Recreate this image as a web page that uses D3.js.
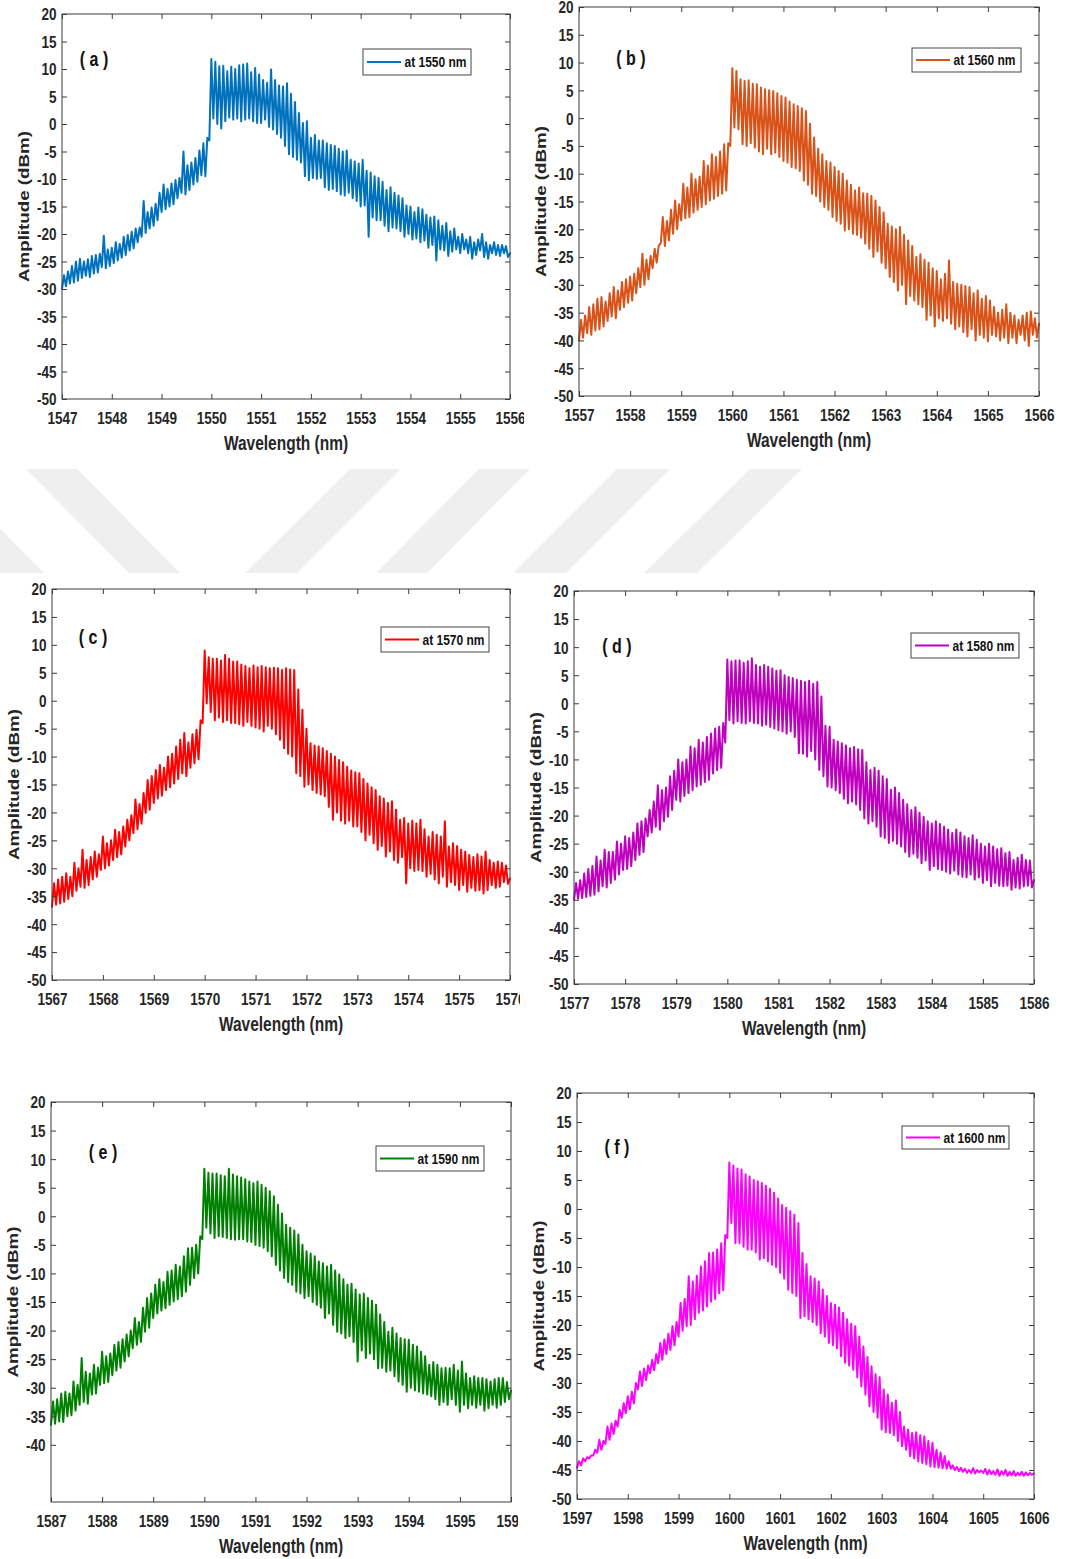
<!DOCTYPE html>
<html>
<head>
<meta charset="utf-8">
<script src="https://cdn.jsdelivr.net/npm/d3@7"></script>
<style>
  html, body { margin: 0; padding: 0; background: #fff; }
  svg { display: block; }
</style>
</head>
<body>
<script>
// Comb spectra sampled every 0.04 nm, alternating trough, peak, trough, peak ... (dBm)
const sampleStep = 0.04;

const startA = 1547;
const ampA = [
  -30.0,-27.5, -29.5,-26.8, -29.0,-25.8, -28.8,-25.0, -28.5,-24.5,
  -28.0,-25.0, -27.6,-24.6, -27.8,-24.0, -27.2,-23.8, -27.0,-23.6,
  -26.0,-20.3, -26.2,-22.8, -25.8,-22.5, -25.3,-21.5, -24.8,-21.8,
  -24.3,-20.5, -23.8,-20.2, -23.0,-19.6, -22.6,-19.0, -21.5,-18.8,
  -20.5,-14.0, -19.8,-16.0, -19.0,-15.2, -18.5,-14.5, -17.5,-12.5,
  -16.0,-11.0, -15.5,-11.8, -15.0,-10.8, -14.6,-10.2, -13.5,-9.8,
  -12.5,-5.0, -12.8,-7.5, -12.0,-7.0, -11.0,-6.2, -10.5,-4.8,
  -9.3,-3.5, -9.5,-2.5, -3.0,11.8, 1.0,11.3, 0.0,10.5,
  -0.8,10.6, 0.5,9.6, 1.2,10.4, 0.8,10.0, 1.0,10.7,
  0.5,10.8, 0.8,11.0, 1.0,9.4, 0.5,10.2, 0.2,9.0,
  0.2,8.0, 0.8,7.5, -0.5,9.9, -1.0,8.0, -1.8,7.0,
  -2.5,6.8, -4.0,7.4, -5.5,5.5, -6.0,4.0, -6.5,2.0,
  -7.0,0.2, -9.5,0.5, -10.2,-2.5, -9.8,-2.0, -10.0,-3.0,
  -9.8,-3.0, -11.5,-3.5, -12.0,-3.8, -11.8,-4.0, -12.2,-4.5,
  -12.8,-5.0, -13.0,-4.8, -12.5,-6.5, -13.5,-6.8, -14.0,-7.2,
  -15.0,-6.5, -14.8,-8.5, -20.5,-8.8, -17.0,-9.5, -17.5,-9.8,
  -17.5,-10.5, -18.5,-12.0, -19.5,-11.5, -18.8,-12.5, -19.0,-13.0,
  -19.5,-13.5, -20.5,-14.8, -20.0,-15.0, -21.0,-16.0, -20.8,-15.2,
  -21.5,-15.5, -21.2,-16.5, -22.5,-17.0, -22.0,-16.8, -24.8,-17.5,
  -22.8,-18.5, -23.0,-18.0, -24.0,-19.5, -23.2,-19.0, -22.8,-20.5,
  -23.5,-20.0, -22.8,-21.0, -23.5,-20.5, -24.5,-21.5, -23.8,-21.0,
  -23.0,-20.0, -24.2,-21.5, -24.5,-22.0, -23.5,-21.5, -23.8,-22.0,
  -24.0,-22.0, -23.5,-22.2, -24.2,-23.5
];

const startB = 1557;
const ampB = [
  -40.0,-36.3, -39.5,-35.5, -38.7,-34.0, -39.0,-33.5, -38.2,-32.5,
  -38.0,-32.2, -37.5,-33.0, -36.5,-31.5, -35.7,-30.4, -36.0,-31.0,
  -34.5,-29.5, -34.0,-29.0, -33.2,-28.5, -32.8,-28.0, -31.5,-27.0,
  -30.4,-24.4, -30.0,-25.5, -29.0,-24.8, -27.0,-23.5, -26.0,-23.0,
  -22.5,-17.8, -23.0,-18.5, -22.0,-16.5, -20.8,-14.8, -20.0,-15.5,
  -18.4,-11.8, -18.0,-12.5, -17.8,-10.0, -17.0,-11.0, -16.5,-10.5,
  -16.0,-7.7, -15.5,-8.5, -14.8,-6.5, -14.5,-7.0, -14.0,-6.0,
  -13.6,-4.7, -13.0,-4.5, -5.0,9.0, -1.7,8.5, -2.0,7.0,
  -4.7,6.7, -5.0,6.8, -4.5,6.2, -5.3,6.1, -6.0,5.5,
  -6.5,5.2, -5.5,5.0, -6.5,4.9, -6.2,4.5, -7.0,4.0,
  -7.7,3.7, -8.0,3.0, -8.8,2.5, -9.0,2.2, -9.5,1.8,
  -11.2,1.3, -12.0,-1.0, -13.6,-3.5, -14.0,-5.5, -15.0,-6.5,
  -16.0,-7.7, -16.5,-8.0, -17.8,-8.8, -18.5,-9.5, -19.0,-10.0,
  -20.2,-11.2, -20.0,-12.0, -20.8,-13.0, -21.0,-12.5, -21.5,-13.5,
  -22.6,-13.6, -23.5,-14.0, -25.0,-14.8, -24.0,-16.0, -26.0,-17.0,
  -27.0,-19.0, -28.6,-19.5, -29.5,-20.0, -31.0,-19.6, -30.0,-21.0,
  -33.5,-22.0, -32.0,-23.0, -32.8,-25.0, -33.5,-24.5, -34.0,-25.5,
  -36.3,-26.0, -35.5,-27.0, -37.5,-27.5, -36.0,-29.0, -36.5,-28.0,
  -36.0,-25.6, -37.0,-29.5, -38.0,-29.8, -37.5,-30.0, -38.5,-30.2,
  -39.3,-30.4, -38.0,-31.5, -40.0,-31.0, -39.0,-32.5, -39.5,-32.0,
  -40.2,-32.8, -39.0,-34.0, -39.3,-35.0, -40.0,-34.5, -39.5,-33.5,
  -40.5,-35.0, -39.5,-35.5, -40.5,-36.3, -39.0,-35.5, -40.0,-35.0,
  -41.0,-34.8, -39.0,-36.0, -39.5,-37.0
];

const startC = 1567;
const ampC = [
  -36.9,-32.7, -36.5,-32.0, -36.3,-31.5, -36.0,-30.9, -35.5,-31.5,
  -35.0,-29.0, -34.0,-30.0, -33.3,-26.7, -33.5,-28.5, -33.0,-28.0,
  -32.0,-27.0, -31.5,-27.5, -30.3,-24.3, -30.0,-25.5, -29.5,-25.0,
  -28.5,-23.1, -28.0,-23.5, -27.5,-22.5, -26.1,-21.3, -25.0,-20.5,
  -23.7,-17.7, -23.0,-18.5, -22.0,-16.5, -20.1,-14.2, -19.5,-13.5,
  -18.3,-12.4, -17.5,-11.5, -17.0,-12.0, -16.0,-10.0, -15.5,-9.5,
  -14.8,-8.2, -14.0,-7.0, -13.0,-5.8, -13.5,-7.5, -12.0,-6.0,
  -11.2,-5.2, -10.5,-3.5, -4.0,9.0, -0.5,7.8, -2.0,7.5,
  -3.5,7.5, -3.0,7.2, -3.8,8.2, -3.5,7.5, -4.0,7.0,
  -4.0,7.0, -4.2,6.5, -4.5,6.2, -3.8,5.8, -4.5,6.3,
  -4.8,6.0, -5.0,6.2, -5.5,6.0, -4.5,5.8, -5.0,5.9,
  -6.0,5.8, -7.0,5.5, -8.5,5.8, -9.5,5.6, -10.0,5.5,
  -13.0,2.0, -13.5,-1.6, -15.4,-5.0, -15.0,-7.6, -16.0,-8.0,
  -16.5,-8.2, -16.8,-8.5, -17.1,-9.0, -19.0,-9.5, -21.3,-10.0,
  -20.0,-10.6, -21.5,-11.0, -22.0,-11.8, -21.5,-12.5, -22.5,-12.8,
  -22.5,-13.0, -23.5,-14.0, -25.0,-14.8, -24.0,-15.5, -25.5,-16.0,
  -26.7,-17.1, -26.0,-17.5, -27.9,-18.3, -27.0,-18.0, -28.5,-19.5,
  -29.0,-21.3, -28.0,-21.0, -32.7,-22.0, -30.0,-21.5, -30.5,-22.0,
  -30.3,-21.3, -30.5,-23.0, -31.5,-24.3, -31.0,-23.5, -32.0,-24.0,
  -32.7,-24.3, -31.5,-21.6, -33.3,-26.1, -32.5,-25.5, -33.0,-26.0,
  -33.9,-26.7, -33.0,-27.0, -34.2,-27.6, -33.5,-28.0, -34.0,-27.5,
  -33.9,-27.9, -34.5,-27.0, -33.9,-28.5, -33.0,-29.0, -33.5,-28.8,
  -33.3,-29.0, -32.5,-29.5, -32.8,-31.8
];

const startD = 1577;
const ampD = [
  -35.0,-32.0, -34.8,-31.5, -34.7,-30.3, -34.5,-29.5, -34.3,-29.0,
  -34.1,-27.3, -33.5,-28.0, -32.6,-26.1, -32.8,-26.5, -32.0,-26.5,
  -31.4,-24.6, -30.5,-25.0, -29.7,-23.7, -29.5,-24.0, -29.0,-23.0,
  -27.9,-21.4, -27.0,-21.0, -26.5,-20.5, -23.7,-19.0, -23.0,-17.5,
  -22.0,-14.6, -22.5,-15.5, -21.0,-15.0, -20.2,-13.0, -19.0,-12.0,
  -17.2,-10.0, -17.5,-10.5, -16.5,-10.0, -16.0,-7.7, -15.5,-8.0,
  -14.8,-6.5, -14.5,-7.0, -14.0,-6.0, -13.6,-5.4, -12.5,-4.5,
  -11.9,-4.2, -11.5,-3.5, -7.0,7.8, -3.0,7.5, -3.6,7.6,
  -3.2,7.6, -3.5,7.2, -3.6,7.5, -3.2,8.0, -3.5,6.8,
  -3.6,6.5, -4.0,6.8, -3.8,6.5, -4.2,6.2, -4.5,5.8,
  -4.8,5.9, -5.0,5.0, -5.4,4.7, -5.0,4.5, -6.0,4.2,
  -8.9,4.0, -9.0,3.8, -9.5,4.0, -8.5,3.5, -10.0,3.8,
  -11.9,1.2, -13.0,-4.0, -14.8,-4.2, -15.0,-6.5, -15.5,-6.8,
  -16.0,-7.1, -17.0,-7.5, -17.8,-8.0, -17.5,-7.8, -18.0,-8.2,
  -19.0,-8.3, -20.5,-10.5, -21.4,-11.9, -21.0,-11.5, -22.0,-12.0,
  -23.7,-13.0, -24.0,-13.5, -24.9,-15.4, -24.5,-15.0, -25.0,-16.0,
  -25.5,-17.2, -26.5,-18.0, -27.3,-19.0, -26.8,-18.5, -27.5,-19.5,
  -28.5,-20.2, -28.0,-21.0, -29.7,-21.4, -29.0,-21.0, -29.5,-21.5,
  -29.7,-22.0, -30.0,-22.5, -30.3,-23.1, -29.8,-22.5, -30.5,-23.0,
  -30.9,-23.7, -31.0,-24.0, -30.5,-23.5, -31.4,-24.3, -31.0,-25.0,
  -32.0,-25.5, -31.5,-25.0, -32.6,-25.5, -32.0,-26.0, -32.5,-25.8,
  -32.6,-26.7, -32.5,-26.5, -33.2,-27.9, -32.8,-27.5, -33.0,-27.0,
  -32.6,-27.9, -32.5,-28.0, -32.8,-31.5
];

const startE = 1587;
const ampE = [
  -36.5,-32.4, -36.3,-32.0, -35.9,-31.0, -36.0,-30.7, -35.0,-31.0,
  -34.8,-28.9, -34.0,-29.5, -33.0,-24.8, -32.5,-27.2, -32.8,-27.5,
  -31.2,-26.0, -31.0,-26.5, -29.5,-23.7, -29.2,-24.5, -29.0,-24.0,
  -27.8,-22.5, -27.0,-22.0, -26.5,-21.5, -25.4,-20.7, -24.5,-20.0,
  -23.1,-17.8, -22.5,-18.5, -22.0,-16.0, -20.2,-14.3, -19.5,-13.5,
  -17.8,-12.0, -17.0,-11.0, -16.5,-11.5, -16.1,-9.7, -15.5,-9.5,
  -14.9,-8.5, -14.5,-8.8, -14.0,-7.0, -13.2,-5.6, -12.0,-5.5,
  -10.8,-5.0, -10.0,-3.5, -4.0,8.3, -2.0,7.6, -3.0,7.5,
  -3.8,7.5, -3.5,7.2, -3.6,7.0, -3.8,8.3, -4.0,7.3,
  -4.1,7.0, -4.0,6.8, -4.0,6.5, -4.4,6.1, -4.5,5.8,
  -5.0,6.1, -5.2,5.5, -5.5,5.0, -6.1,4.4, -7.0,3.5,
  -8.5,2.0, -9.5,0.5, -10.8,-1.5, -11.5,-2.0, -12.0,-2.5,
  -13.2,-3.2, -13.5,-5.0, -14.3,-6.1, -14.0,-6.5, -15.0,-7.0,
  -15.5,-7.9, -16.0,-8.2, -17.8,-8.8, -17.0,-8.5, -19.0,-9.5,
  -20.2,-10.2, -20.5,-11.0, -21.3,-12.0, -21.0,-11.8, -22.0,-12.8,
  -25.4,-13.7, -23.5,-13.5, -24.8,-14.3, -24.0,-14.8, -25.0,-15.5,
  -26.6,-17.2, -26.5,-18.5, -27.2,-20.2, -27.0,-19.5, -28.0,-20.5,
  -28.9,-21.3, -29.5,-21.5, -30.7,-21.6, -30.0,-22.5, -30.5,-22.8,
  -30.7,-23.7, -31.0,-24.5, -31.2,-26.0, -31.5,-25.5, -32.0,-26.0,
  -33.0,-26.6, -32.5,-26.5, -33.0,-26.6, -32.0,-26.0, -33.0,-27.0,
  -34.2,-25.4, -33.0,-27.5, -33.6,-28.3, -33.0,-28.0, -33.5,-28.3,
  -33.0,-28.3, -34.0,-28.5, -33.6,-28.9, -33.0,-28.5, -33.5,-28.3,
  -33.0,-28.3, -32.5,-29.0, -32.0,-30.5
];

const startF = 1597;
const ampF = [
  -44.6,-43.5, -44.2,-43.0, -43.5,-42.8, -43.0,-42.5, -42.5,-41.5,
  -42.0,-39.8, -41.5,-40.0, -40.5,-37.5, -39.8,-37.0, -38.8,-36.5,
  -37.5,-34.6, -36.0,-33.5, -35.2,-32.3, -34.5,-31.5, -33.5,-30.0,
  -31.1,-28.0, -30.5,-27.5, -29.5,-27.0, -28.3,-26.0, -27.8,-25.0,
  -26.6,-23.1, -26.0,-22.5, -25.0,-21.5, -24.3,-20.2, -23.5,-19.5,
  -22.0,-16.2, -21.0,-15.5, -20.2,-11.6, -20.0,-12.5, -19.0,-11.5,
  -17.9,-9.9, -17.5,-9.0, -16.8,-7.6, -16.0,-7.5, -15.5,-7.0,
  -14.5,-5.9, -14.0,-4.5, -5.0,8.0, -2.4,7.5, -5.9,7.0,
  -5.9,6.8, -6.5,6.0, -7.0,5.6, -7.0,5.0, -7.5,4.8,
  -8.7,4.5, -8.5,4.0, -9.0,3.5, -9.6,2.8, -10.0,1.8,
  -11.0,0.7, -12.0,0.2, -13.9,-0.4, -14.5,-1.0, -15.0,-2.4,
  -18.8,-7.6, -18.5,-9.5, -19.0,-11.6, -19.5,-12.0, -20.0,-12.5,
  -21.4,-13.9, -22.0,-15.0, -23.1,-16.2, -23.5,-16.5, -24.0,-17.0,
  -25.4,-17.9, -26.5,-19.0, -27.0,-19.8, -27.7,-20.2, -29.0,-22.0,
  -30.6,-23.7, -32.0,-25.5, -34.0,-27.1, -35.0,-28.5, -36.0,-29.0,
  -38.0,-31.1, -38.5,-32.0, -38.6,-33.4, -39.0,-33.0, -40.0,-35.0,
  -40.9,-37.5, -41.5,-38.0, -42.6,-38.6, -43.0,-38.5, -43.5,-39.0,
  -43.8,-39.2, -44.0,-40.0, -44.4,-40.3, -44.5,-41.5, -44.6,-42.0,
  -44.7,-42.6, -44.8,-43.5, -44.8,-44.2, -45.0,-44.5, -45.2,-44.6,
  -45.3,-44.8, -45.5,-45.0, -45.5,-44.7, -45.6,-45.0, -45.4,-45.1,
  -45.5,-44.8, -45.8,-45.0, -45.7,-45.2, -45.8,-44.9, -46.0,-45.2,
  -45.8,-45.0, -46.0,-45.3, -45.9,-45.2, -46.0,-45.5, -45.9,-45.3,
  -46.0,-45.4, -45.9,-45.5, -45.8,-45.6
];

// Axis ticks and labels
const ampTicks = [20, 15, 10, 5, 0, -5, -10, -15, -20, -25, -30, -35, -40, -45, -50];
const ampTicksShort = [20, 15, 10, 5, 0, -5, -10, -15, -20, -25, -30, -35, -40];
const ampDomain = [-50, 20];
const spanNm = 9;
const panelTags = ['( a )', '( b )', '( c )', '( d )', '( e )', '( f )'];
const legendLabels = ['at 1550 nm', 'at 1560 nm', 'at 1570 nm', 'at 1580 nm', 'at 1590 nm', 'at 1600 nm'];
const seriesColors = ['#0072BD', '#D95319', '#FF0000', '#BF00BF', '#008000', '#FF00FF'];
const xTitle = 'Wavelength (nm)';
const yTitle = 'Amplitude (dBm)';

// Layout of each panel on the page
const layout = [
  { L: 62,  R: 510,  T: 14,   B: 399,  clipR: 524,  lg: [363, 49, 108, 26],   tag: [94, 59] },
  { L: 579, R: 1039, T: 7,    B: 396,  clipR: null, lg: [912, 48, 109, 24],   tag: [631, 58] },
  { L: 52,  R: 510,  T: 589,  B: 980,  clipR: 520,  lg: [381, 627, 108, 25],  tag: [93, 637] },
  { L: 574, R: 1034, T: 591,  B: 984,  clipR: null, lg: [911, 633, 108, 25],  tag: [617, 646] },
  { L: 51,  R: 511,  T: 1102, B: 1502, clipR: 518,  lg: [376, 1146, 108, 25], tag: [103, 1152] },
  { L: 577, R: 1034, T: 1093, B: 1499, clipR: null, lg: [902, 1126, 107, 23], tag: [617, 1147] }
];

const series = [
  { start: startA, amp: ampA, ticks: ampTicks },
  { start: startB, amp: ampB, ticks: ampTicks },
  { start: startC, amp: ampC, ticks: ampTicks },
  { start: startD, amp: ampD, ticks: ampTicks },
  { start: startE, amp: ampE, ticks: ampTicksShort },
  { start: startF, amp: ampF, ticks: ampTicks }
];

const W = 1066, H = 1559;
const FONT = "'Liberation Sans', Arial, Helvetica, sans-serif";
const STRETCH = 1.25;   // glyphs are drawn taller than wide
const AXIS_INK = '#3c3c3c';
const TEXT_INK = '#262626';
const plainNumber = d => String(d);   // keeps the ASCII hyphen for negatives

const svg = d3.select('body').append('svg')
  .attr('width', W).attr('height', H)
  .attr('viewBox', `0 0 ${W} ${H}`);

svg.append('rect').attr('width', W).attr('height', H).attr('fill', '#fff');

// faint diagonal watermark band between the rows
const stripes = [
  [[-103, 469], [-59, 469], [44, 573], [0, 573]],
  [[26, 469], [77, 469], [180, 573], [129, 573]],
  [[350, 469], [401, 469], [297, 573], [245, 573]],
  [[479, 469], [530, 469], [427, 573], [376, 573]],
  [[617, 469], [670, 469], [566, 573], [513, 573]],
  [[750, 469], [802, 469], [697, 573], [644, 573]]
];
svg.append('g').selectAll('polygon').data(stripes).join('polygon')
  .attr('points', d => d.map(p => p.join(',')).join(' '))
  .attr('fill', '#efefef');

const defs = svg.append('defs');

function stretched(sel, x, y, rotate) {
  sel.attr('transform', `translate(${x},${y}) scale(1,${STRETCH})` + (rotate ? ' rotate(-90)' : ''));
  return sel;
}

series.forEach((s, i) => {
  const P = layout[i];
  const g = svg.append('g');

  if (P.clipR !== null) {
    defs.append('clipPath').attr('id', 'clip' + i)
      .append('rect').attr('x', 0).attr('y', P.T - 20).attr('width', P.clipR).attr('height', P.B - P.T + 80);
    g.attr('clip-path', `url(#clip${i})`);
  }

  const x = d3.scaleLinear().domain([s.start, s.start + spanNm]).range([P.L, P.R]);
  const y = d3.scaleLinear().domain(ampDomain).range([P.B, P.T]);

  // spectrum trace
  const pts = s.amp.map((v, k) => [s.start + k * sampleStep, v]);
  g.append('path')
    .attr('d', d3.line().x(d => x(d[0])).y(d => y(d[1]))(pts))
    .attr('fill', 'none')
    .attr('stroke', seriesColors[i])
    .attr('stroke-width', 2)
    .attr('stroke-linejoin', 'round')
    .attr('stroke-linecap', 'round');

  const xTickVals = d3.range(s.start, s.start + spanNm + 1, 1);

  // bottom axis with labels
  const axB = g.append('g').attr('transform', `translate(0,${P.B})`)
    .call(d3.axisBottom(x).tickValues(xTickVals).tickSizeInner(-5).tickSizeOuter(0).tickFormat(plainNumber));
  // top axis (ticks only)
  g.append('g').attr('transform', `translate(0,${P.T})`)
    .call(d3.axisTop(x).tickValues(xTickVals).tickSizeInner(-5).tickSizeOuter(0).tickFormat(''));
  // left axis with labels
  const axL = g.append('g').attr('transform', `translate(${P.L},0)`)
    .call(d3.axisLeft(y).tickValues(s.ticks).tickSizeInner(-5).tickSizeOuter(0).tickFormat(plainNumber));
  // right axis (ticks only)
  g.append('g').attr('transform', `translate(${P.R},0)`)
    .call(d3.axisRight(y).tickValues(s.ticks).tickSizeInner(-5).tickSizeOuter(0).tickFormat(''));

  g.selectAll('.domain').remove();
  g.selectAll('.tick line').attr('stroke', AXIS_INK).attr('stroke-width', 1);

  axB.selectAll('.tick text')
    .attr('y', null).attr('dy', '0.35em')
    .attr('transform', `translate(0,19) scale(1,${STRETCH})`)
    .attr('font-family', FONT).attr('font-weight', 'bold').attr('font-size', 13.5)
    .attr('fill', TEXT_INK);
  axL.selectAll('.tick text')
    .attr('x', null).attr('dy', '0.35em')
    .attr('transform', `translate(-5.5,0) scale(1,${STRETCH})`)
    .attr('text-anchor', 'end')
    .attr('font-family', FONT).attr('font-weight', 'bold').attr('font-size', 13.5)
    .attr('fill', TEXT_INK);

  // axes box
  g.append('rect')
    .attr('x', P.L).attr('y', P.T).attr('width', P.R - P.L).attr('height', P.B - P.T)
    .attr('fill', 'none').attr('stroke', AXIS_INK).attr('stroke-width', 1);

  // axis titles
  stretched(g.append('text'), (P.L + P.R) / 2, P.B + 44)
    .attr('text-anchor', 'middle').attr('dy', '0.35em')
    .attr('font-family', FONT).attr('font-weight', 'bold').attr('font-size', 15.5)
    .attr('fill', TEXT_INK).text(xTitle);
  stretched(g.append('text'), P.L - 38, (P.T + P.B) / 2, true)
    .attr('text-anchor', 'middle').attr('dy', '0.35em')
    .attr('font-family', FONT).attr('font-weight', 'bold').attr('font-size', 15)
    .attr('fill', TEXT_INK).text(yTitle);

  // panel tag
  stretched(g.append('text'), P.tag[0], P.tag[1])
    .attr('text-anchor', 'middle').attr('dy', '0.35em')
    .attr('font-family', FONT).attr('font-weight', 'bold').attr('font-size', 16)
    .attr('fill', '#111').attr('xml:space', 'preserve').text(panelTags[i]);

  // legend
  const [lx, ly, lw, lh] = P.lg;
  const lg = g.append('g');
  lg.append('rect').attr('x', lx).attr('y', ly).attr('width', lw).attr('height', lh)
    .attr('fill', '#fff').attr('stroke', '#444').attr('stroke-width', 1);
  lg.append('line')
    .attr('x1', lx + 4).attr('x2', lx + 38)
    .attr('y1', ly + lh / 2).attr('y2', ly + lh / 2)
    .attr('stroke', seriesColors[i]).attr('stroke-width', 2);
  stretched(lg.append('text'), lx + 41.5, ly + lh / 2)
    .attr('dy', '0.35em')
    .attr('font-family', FONT).attr('font-weight', 'bold').attr('font-size', 12)
    .attr('fill', '#111').text(legendLabels[i]);
});
</script>
</body>
</html>
